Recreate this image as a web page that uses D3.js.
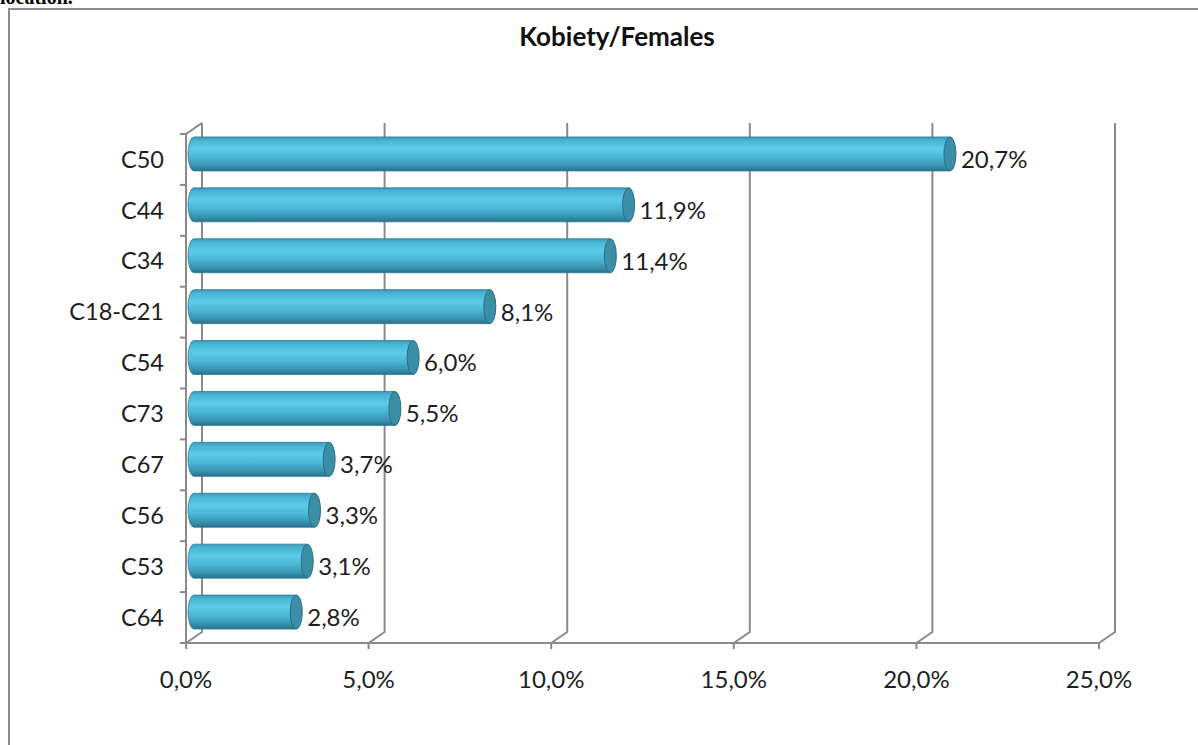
<!DOCTYPE html>
<html><head><meta charset="utf-8">
<script src="https://cdn.jsdelivr.net/npm/d3@7"></script>
<style>
html,body{margin:0;padding:0;background:#fff;}
svg{display:block;}
</style></head>
<body>
<svg id="chart" width="1198" height="745"></svg>
<script>
const categories = ["C50","C44","C34","C18-C21","C54","C73","C67","C56","C53","C64"];
const values = [20.7,11.9,11.4,8.1,6.0,5.5,3.7,3.3,3.1,2.8];
const valueLabels = ["20,7%","11,9%","11,4%","8,1%","6,0%","5,5%","3,7%","3,3%","3,1%","2,8%"];
const tickValues = [0,5,10,15,20,25];
const tickLabels = ["0,0%","5,0%","10,0%","15,0%","20,0%","25,0%"];
const title = "Kobiety/Females";

const svg = d3.select("#chart");
const font = "Lato, 'Open Sans', sans-serif";

// cut-off caption above the frame
svg.append("text").attr("x", 0).attr("y", 4)
  .attr("font-family", "'Liberation Serif', serif").attr("font-weight", "bold")
  .attr("font-size", 20).attr("fill", "#000").text("location.");

// frame
svg.append("path").attr("d", "M9,760 L9,9 L1210,9")
  .attr("fill", "none").attr("stroke", "#8c8c8c").attr("stroke-width", 2);

const x = d3.scaleLinear().domain([0,25]).range([186, 1099]);
const y = d3.scaleBand().domain(categories).range([134, 643]);
const dx = 16, dy = -11;
const floorY = 643, topY = 134;
const grid = "#8a8a8a";

// defs gradient
const defs = svg.append("defs");
const g1 = defs.append("linearGradient").attr("id","cyl").attr("x1",0).attr("x2",0).attr("y1",0).attr("y2",1);
[[0,"#3a9cba"],[0.12,"#4bb6d6"],[0.35,"#5ccbe9"],[0.6,"#4cb7d7"],[0.85,"#3793b0"],[1,"#28718a"]]
  .forEach(([o,c]) => g1.append("stop").attr("offset", o).attr("stop-color", c));

// back wall gridlines + floor diagonals
tickValues.forEach(v => {
  svg.append("path")
    .attr("d", `M${x(v)+dx},${topY+dy} L${x(v)+dx},${floorY+dy} L${x(v)},${floorY}`)
    .attr("fill","none").attr("stroke", grid).attr("stroke-width", 2);
});
// left wall: front vertical axis and top diagonal
svg.append("path").attr("d", `M${x(0)+dx},${topY+dy} L${x(0)},${topY} L${x(0)},${floorY} L${x(25)},${floorY}`)
  .attr("fill","none").attr("stroke", grid).attr("stroke-width", 2);

// ticks
const bounds = d3.range(categories.length+1).map(i => topY + i*y.step());
bounds.forEach(b => svg.append("line").attr("x1", x(0)-6).attr("x2", x(0)).attr("y1", b).attr("y2", b)
  .attr("stroke", grid).attr("stroke-width", 2));
tickValues.forEach(v => svg.append("line").attr("x1", x(v)).attr("x2", x(v)).attr("y1", floorY).attr("y2", floorY+6)
  .attr("stroke", grid).attr("stroke-width", 2));

// x tick labels
svg.append("g").selectAll("text").data(tickValues).join("text")
  .attr("x", d => x(d)).attr("y", 680).attr("dy", "0.35em")
  .attr("text-anchor","middle").attr("font-family", font).attr("font-size", 24).attr("fill","#1e1e1e")
  .text((d,i) => tickLabels[i]);

// category labels
svg.append("g").selectAll("text").data(categories).join("text")
  .attr("x", 164).attr("y", d => y(d) + y.bandwidth()/2).attr("dy","0.35em")
  .attr("text-anchor","end").attr("font-family", font).attr("font-size", 23.5).attr("fill","#1e1e1e")
  .text(d => d);

// bars (cylinders at mid depth)
const mdx = dx/2, mdy = dy/2, bh = 34, rx = 6;
const bars = svg.append("g").selectAll("g").data(categories).join("g");
bars.each(function(c, i) {
  const gg = d3.select(this);
  const cy = y(c) + y.bandwidth()/2 + mdy;
  const x0 = x(0) + mdx, x1 = x(values[i]) + mdx;
  const top = cy - bh/2, bot = cy + bh/2;
  gg.append("path")
    .attr("d", `M${x0},${top} L${x1},${top} L${x1},${bot} L${x0},${bot} A${rx},${bh/2} 0 0 1 ${x0},${top} Z`)
    .attr("fill", "url(#cyl)").attr("stroke", "#2d7c95").attr("stroke-width", 0.8);
  gg.append("ellipse").attr("cx", x1).attr("cy", cy).attr("rx", rx).attr("ry", bh/2)
    .attr("fill", "#3a8ea6").attr("stroke", "#2a6f85").attr("stroke-width", 1);
  gg.append("text").attr("x", x1 + rx + 5).attr("y", y(c) + y.bandwidth()/2).attr("dy", "0.35em")
    .attr("font-family", font).attr("font-size", 24).attr("fill", "#1e1e1e").text(valueLabels[i]);
});

// title
svg.append("text").attr("x", 617).attr("y", 37).attr("dy","0.35em").attr("text-anchor","middle")
  .attr("font-family", font).attr("font-weight","bold").attr("font-size", 26).attr("fill","#111").text(title);
</script>
</body></html>
